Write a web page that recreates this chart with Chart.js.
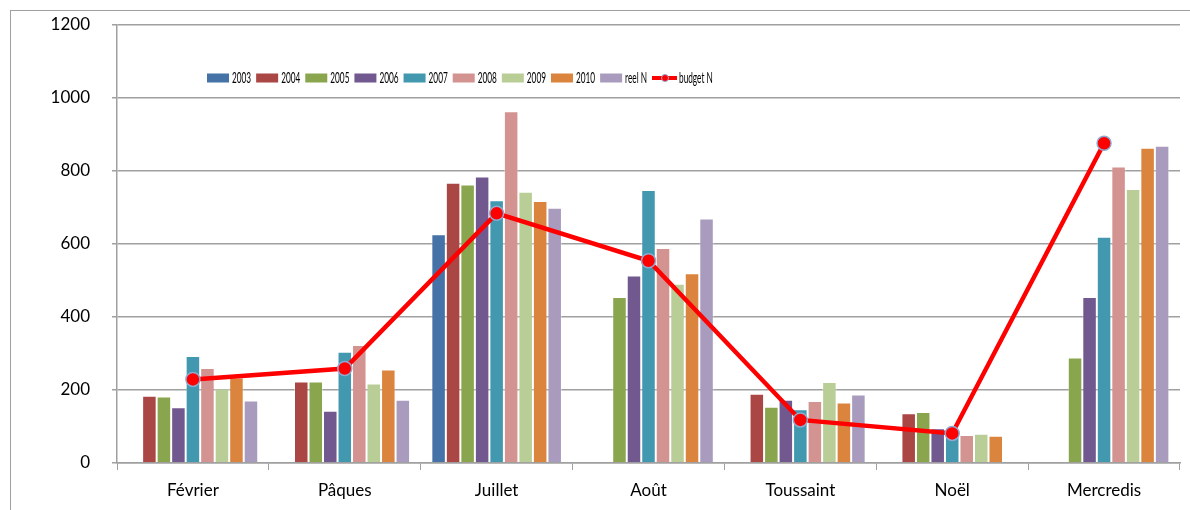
<!DOCTYPE html>
<html>
<head>
<meta charset="utf-8">
<script src="https://cdn.jsdelivr.net/npm/chart.js@4.4.1/dist/chart.umd.min.js"></script>
<style>
    body { margin: 0; background: #fff; }
    #wrap { position: relative; width: 1190px; height: 510px; overflow: hidden; }
    #frame {
        position: absolute; left: 10px; top: 10px; width: 1300px; height: 600px;
        border-left: 1.5px solid #a0a0a0; border-top: 1.5px solid #a0a0a0;
    }
    canvas { position: absolute; left: 0; top: 0; }
</style>
</head>
<body>
<div id="wrap">
    <div id="frame"></div>
    <canvas id="chart" width="1190" height="510"></canvas>
</div>
<script>
const categories = ["Février", "Pâques", "Juillet", "Août", "Toussaint", "Noël", "Mercredis"];

const years2003 = [null, null, 627, null, null, null, null];
const years2004 = [184, 223, 768, null, 190, 136, null];
const years2005 = [182, 223, 763, 455, 154, 140, 289];
const years2006 = [153, 143, 785, 514, 173, 95, 455];
const years2007 = [293, 305, 720, 748, 147, 85, 620];
const years2008 = [260, 323, 964, 589, 170, 77, 812];
const years2009 = [204, 218, 743, 491, 222, 80, 751];
const years2010 = [234, 256, 718, 520, 166, 75, 864];
const reelN = [171, 173, 699, 670, 188, null, 869];
const budgetN = [229, 259, 684, 554, 118, 81, 876];

const yTicks = [0, 200, 400, 600, 800, 1000, 1200];

const barSeries = [
    { label: "2003", data: years2003, color: "#4572a7" },
    { label: "2004", data: years2004, color: "#aa4643" },
    { label: "2005", data: years2005, color: "#89a54e" },
    { label: "2006", data: years2006, color: "#71588f" },
    { label: "2007", data: years2007, color: "#4198af" },
    { label: "2008", data: years2008, color: "#d39391" },
    { label: "2009", data: years2009, color: "#b9cd96" },
    { label: "2010", data: years2010, color: "#db843d" },
    { label: "reel N", data: reelN, color: "#a99bbd" }
];

const gridColor = "#a0a0a0";
const fontFamily = "Lato, 'Open Sans', sans-serif";

// legend drawn inside the plot, condensed like the original
const insideLegend = {
    id: "insideLegend",
    afterDraw(chart) {
        const ctx = chart.ctx;
        const y = 78;
        const squeeze = 0.55;
        let x = 207;
        ctx.save();
        ctx.font = "15px " + fontFamily;
        ctx.textBaseline = "middle";
        ctx.fillStyle = "#000";
        chart.data.datasets.forEach(ds => {
            if (ds.type === "line") {
                ctx.strokeStyle = ds.borderColor;
                ctx.lineWidth = 4;
                ctx.beginPath();
                ctx.moveTo(x, y);
                ctx.lineTo(x + 25, y);
                ctx.stroke();
                ctx.beginPath();
                ctx.arc(x + 13, y, 3.5, 0, Math.PI * 2);
                ctx.fillStyle = ds.pointBackgroundColor;
                ctx.fill();
                ctx.strokeStyle = ds.pointBorderColor;
                ctx.lineWidth = 1;
                ctx.stroke();
                ctx.fillStyle = "#000";
                x += 27;
            } else {
                ctx.fillStyle = ds.backgroundColor;
                ctx.fillRect(x, y - 4.5, 22, 9);
                ctx.fillStyle = "#000";
                x += 25;
            }
            const w = ctx.measureText(ds.label).width * squeeze;
            ctx.save();
            ctx.translate(x, y + 0.5);
            ctx.scale(squeeze, 1);
            ctx.fillText(ds.label, 0, 0);
            ctx.restore();
            x += w + 5;
        });
        ctx.restore();
    }
};

const datasets = barSeries.map(s => ({
    type: "bar",
    label: s.label,
    data: s.data,
    backgroundColor: s.color,
    borderColor: "rgba(255,255,255,0.35)",
    borderWidth: 1,
    categoryPercentage: 0.86,
    barPercentage: 1.0,
    order: 2
}));

datasets.push({
    type: "line",
    label: "budget N",
    data: budgetN,
    borderColor: "#ff0000",
    borderWidth: 4.5,
    pointBackgroundColor: "#ff0000",
    pointBorderColor: "#8eaad0",
    pointBorderWidth: 1.5,
    pointRadius: 7,
    tension: 0,
    order: 1
});

new Chart(document.getElementById("chart"), {
    data: { labels: categories, datasets },
    options: {
        responsive: false,
        animation: false,
        layout: {
            autoPadding: false,
            padding: { top: 25, right: 10, left: 0, bottom: 0 }
        },
        plugins: {
            legend: { display: false },
            tooltip: { enabled: false }
        },
        scales: {
            x: {
                afterFit: (scale) => {
                    scale.height = 47;
                    scale.paddingLeft = 0;
                    scale.paddingRight = 0;
                },
                grid: {
                    offset: true,
                    drawOnChartArea: false,
                    drawTicks: true,
                    tickLength: 7,
                    color: gridColor
                },
                border: { color: gridColor, width: 1.5 },
                ticks: {
                    color: "#000",
                    padding: 10,
                    font: { family: fontFamily, size: 17 }
                }
            },
            y: {
                min: 0,
                max: 1200,
                afterFit: (scale) => {
                    scale.width = 117;
                    scale.paddingTop = 0;
                    scale.paddingBottom = 0;
                },
                afterBuildTicks: (scale) => {
                    scale.ticks = yTicks.map(v => ({ value: v }));
                },
                grid: {
                    color: gridColor,
                    lineWidth: 1.5,
                    tickLength: 5
                },
                border: { color: gridColor, width: 1.5 },
                ticks: {
                    color: "#000",
                    padding: 22,
                    font: { family: fontFamily, size: 17 },
                    callback: (value) => String(value)
                }
            }
        }
    },
    plugins: [insideLegend]
});
</script>
</body>
</html>
